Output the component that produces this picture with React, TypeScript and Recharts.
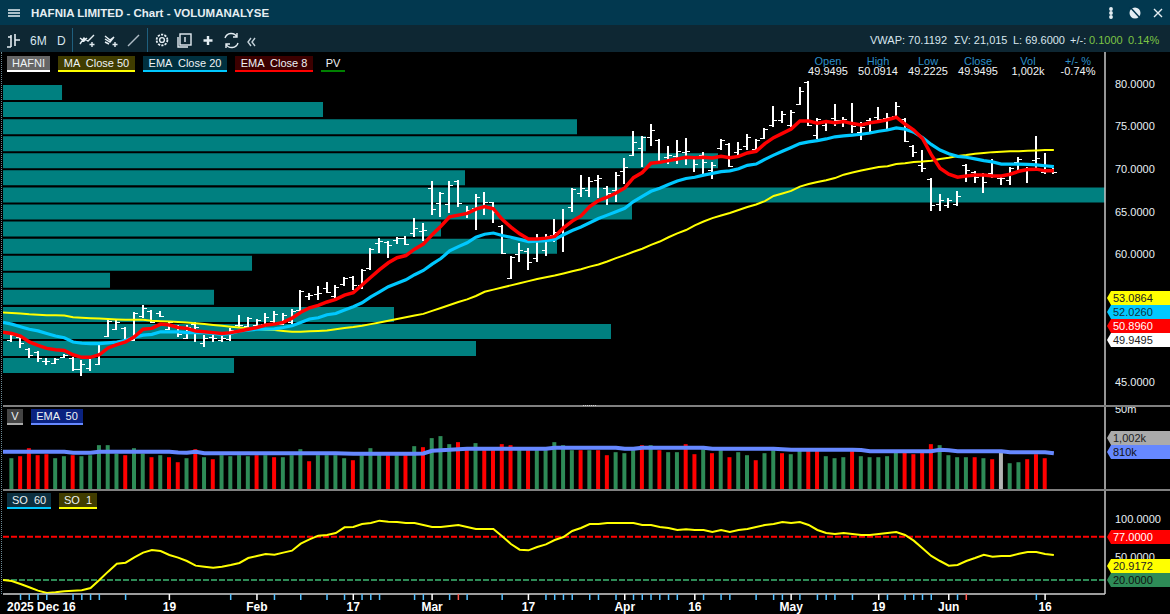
import React from 'react';
import { ComposedChart, BarChart, Bar, Line, XAxis, YAxis, ReferenceLine, Cell } from 'recharts';

// ---- price (index 0 = first bar) ----
const highs = [50.9,50.5,49.0,48.6,47.8,47.8,48.3,47.9,47.6,48.1,49.7,52.3,52.3,51.5,53.2,54.0,53.5,53.3,52.2,51.7,51.7,52.0,50.5,50.5,50.5,51.3,52.9,52.6,52.4,53.1,53.3,53.1,53.6,55.8,55.5,56.3,56.7,56.4,57.3,57.5,58.3,60.7,61.9,61.6,62.0,62.2,64.3,63.7,68.6,67.3,68.6,68.7,65.7,67.1,67.3,66.1,63.4,59.8,61.3,60.7,62.4,62.4,64.1,65.3,67.8,69.3,69.1,69.3,68.0,69.7,71.3,74.5,73.9,75.3,73.5,72.7,73.4,73.7,71.5,72.0,70.8,73.5,73.1,73.2,74.1,73.5,74.8,77.4,76.8,76.9,79.65,80.35,76.0,75.8,77.7,76.1,77.8,75.5,76.0,77.3,76.6,77.9,76.0,72.8,72.3,69.0,67.1,66.6,67.4,70.6,69.8,69.5,71.2,69.1,70.3,71.4,70.3,73.9,71.9,70.1];
const lows = [49.7,49.0,47.8,47.4,47.0,47.1,47.8,46.3,45.7,46.3,47.0,50.3,51.1,49.9,49.8,52.5,51.9,52.6,51.1,50.3,50.1,49.7,49.1,49.7,49.7,49.8,51.5,51.5,51.6,51.5,51.8,51.7,51.8,53.2,54.6,54.6,55.5,54.9,56.3,55.8,55.9,58.2,60.2,59.6,61.2,61.1,62.0,61.6,64.6,64.4,64.8,65.6,64.3,62.9,64.6,63.7,60.0,57.1,59.1,58.2,59.1,59.8,61.4,60.3,65.0,66.7,66.7,66.6,65.8,66.1,68.3,71.5,70.3,72.7,70.8,70.6,70.6,70.5,69.7,69.4,68.8,72.3,70.3,71.3,72.3,72.3,73.5,75.0,75.4,75.0,77.5,75.1,73.5,74.5,75.1,75.0,74.2,73.4,74.4,75.5,74.7,76.0,73.2,71.4,69.7,65.1,65.1,65.4,65.7,68.5,68.4,67.2,69.0,68.1,68.1,69.7,68.4,70.0,69.4,69.4];
const opens = [49.9,50.3,48.9,48.5,47.5,47.2,47.9,47.8,46.5,46.6,47.1,50.4,51.2,51.3,49.9,52.8,53.3,53.1,51.2,51.6,50.2,51.8,49.6,50.3,49.9,50.1,51.7,51.6,51.7,51.8,52.2,51.8,52.0,53.5,55.1,55.3,56.0,55.1,56.5,57.3,56.4,58.4,61.3,61.4,61.7,61.9,62.5,62.7,67.8,66.0,65.9,68.6,64.8,65.4,65.7,66.1,63.3,57.2,60.0,60.4,59.6,60.5,62.3,62.9,65.6,67.2,67.5,68.7,67.8,67.5,69.8,71.7,72.5,73.8,73.4,71.4,71.5,72.0,71.3,71.7,69.9,72.5,73.0,72.0,72.7,72.4,73.7,75.2,75.8,75.2,77.7,80.2,74.0,75.2,76.0,75.8,75.5,74.4,75.8,76.1,76.0,76.2,75.9,72.7,70.5,68.8,65.9,65.8,65.9,70.5,69.7,69.4,69.5,69.0,68.7,70.8,69.9,71.1,69.7,69.8];
const closes = [50.5,49.6,48.2,47.8,47.5,47.7,48.2,46.5,47.1,47.9,49.6,52.2,52.0,50.1,53.1,53.7,52.0,52.8,52.0,50.6,51.5,51.5,50.2,50.2,50.2,51.1,51.7,52.5,52.3,52.6,53.0,52.9,53.3,55.7,55.2,55.5,55.6,56.2,57.2,56.4,58.2,60.6,61.6,61.1,61.9,61.2,63.1,62.9,65.3,67.2,68.1,66.0,65.2,66.7,66.1,65.0,60.2,59.7,60.5,59.1,61.7,62.2,62.6,63.4,67.7,67.8,68.6,69.0,67.2,69.3,70.3,73.2,73.8,74.6,71.0,71.7,72.1,72.1,70.6,70.8,70.5,73.4,70.4,72.4,73.8,73.4,74.7,75.8,76.5,76.7,79.2,75.2,75.9,75.5,75.8,75.9,75.1,75.0,74.5,75.9,76.1,77.4,73.3,72.0,70.1,65.8,66.4,66.4,66.8,69.9,69.1,68.5,69.2,69.0,70.1,71.2,70.1,71.3,70.5,69.7];

// ---- moving averages (first value belongs to the point left of the first bar) ----
const ema8 = [50.85,50.7,50.4,49.7,49.3,48.95,48.8,48.7,48.2,47.9,47.9,48.2,49.0,49.4,49.7,50.3,51.2,51.3,51.8,51.7,51.4,51.3,51.0,50.9,50.8,50.7,50.8,51.0,51.2,51.4,51.7,51.8,52.0,52.5,53.2,53.7,54.0,54.4,54.7,55.2,55.5,56.4,57.3,58.2,59.0,59.6,59.85,60.6,61.2,62.3,63.3,64.4,64.6,64.8,65.3,65.6,65.35,64.1,63.2,62.4,61.8,61.8,61.9,62.1,63.1,63.9,64.5,65.6,66.3,66.7,67.2,67.8,69.0,69.6,70.7,70.8,71.0,71.2,71.4,71.35,71.4,71.3,71.5,71.35,71.5,71.9,72.1,73.0,73.7,74.2,74.7,75.65,75.65,75.4,75.6,75.45,75.6,75.35,75.2,75.45,75.6,75.8,76.1,75.3,74.6,73.6,71.7,70.1,69.4,69.05,69.2,69.3,69.3,69.2,69.2,69.4,69.75,69.95,70.0,69.8,69.8];
const ema20 = [52.0,51.8,51.5,51.2,51.0,50.7,50.4,50.2,49.7,49.55,49.5,49.5,49.6,49.7,49.9,50.25,50.5,50.6,50.9,50.9,50.9,50.8,50.8,50.8,50.7,50.6,50.7,51.0,51.1,51.2,51.2,51.25,51.4,51.6,52.0,52.4,52.55,52.9,53.05,53.45,53.85,54.3,55.0,55.6,56.2,56.6,57.0,57.6,58.1,58.85,59.5,60.4,60.9,61.35,62.0,62.35,62.5,62.2,62.0,61.75,61.5,61.55,61.6,61.75,62.3,62.8,63.2,63.7,64.2,64.6,65.0,65.4,66.2,66.8,67.4,67.75,68.2,68.6,68.9,69.05,69.3,69.5,69.7,69.8,70.05,70.45,70.6,71.15,71.65,72.1,72.55,73.0,73.2,73.35,73.55,73.8,73.9,74.0,74.1,74.25,74.45,74.6,74.85,74.7,74.35,73.7,72.9,72.25,71.8,71.5,71.4,71.2,71.0,70.85,70.6,70.6,70.6,70.55,70.5,70.4,70.3];
const ma50 = [53.15,53.1,53.05,52.95,52.9,52.85,52.85,52.8,52.6,52.55,52.5,52.45,52.4,52.35,52.3,52.3,52.3,52.2,52.15,52.1,52.05,52.0,51.9,51.8,51.7,51.6,51.5,51.4,51.3,51.25,51.15,51.1,51.0,50.9,50.9,50.95,51.0,51.05,51.2,51.35,51.45,51.6,51.8,52.0,52.2,52.4,52.6,52.8,53.0,53.35,53.7,54.05,54.4,54.7,55.1,55.6,55.85,56.1,56.35,56.6,56.85,57.1,57.3,57.5,57.75,58.0,58.25,58.55,58.8,59.15,59.55,59.9,60.3,60.65,61.1,61.5,62.0,62.45,62.85,63.4,63.85,64.25,64.55,64.85,65.2,65.55,65.85,66.25,66.85,67.15,67.45,67.95,68.25,68.5,68.7,68.95,69.35,69.6,69.85,70.05,70.25,70.35,70.6,70.7,70.85,70.9,71.0,71.2,71.35,71.55,71.65,71.8,71.9,72.0,72.05,72.1,72.1,72.15,72.2,72.25,72.25];

// ---- volume profile: price level and traded amount ----
const profileLevels = [79,77,75,73,71,69,67,65,63,61,59,57,55,53,51,49,47];
const profileAmounts = [59,320,574,643,715,462,1102,629,438,554,249,107,211,391,608,473,231];

// ---- volume ----
const volumes = [490,520,640,535,550,490,520,535,520,535,685,685,560,535,640,560,505,535,505,430,490,625,505,475,535,520,535,520,535,535,505,505,535,625,445,535,535,535,490,460,535,640,560,535,535,535,670,655,790,820,700,730,610,715,610,610,700,685,610,610,610,610,730,685,610,610,610,610,535,580,565,610,685,685,610,580,580,700,550,625,565,610,505,580,535,460,565,610,565,550,610,610,610,520,490,505,610,520,505,505,520,580,580,550,580,700,685,535,505,505,505,490,475,585,415,430,475,550,490,20];
const volumeSides = ('GRRRRGGRGG'+'GGGRGGRGRR'+'GRGRGGGGRG'+'RGGGRGGGGR'+'GGGRGRGRGG'+'GRRGRRRRGR'+'GGGGGRGRRG'+'GGRGRGGRRG'+'RGRGGRGGRG'+'GRRGGGRGGG'+'GGRRRRGGGG'+'RGRNGGRRRG').split('');
const volumeEma = [585,585,585,585,585,585,585,585,570,570,570,585,585,585,585,585,585,585,585,585,575,570,585,565,565,565,565,565,565,565,565,565,565,565,565,565,565,565,565,560,555,555,555,555,555,555,555,555,560,600,610,615,625,630,630,630,630,630,630,630,630,630,630,645,645,645,645,645,645,645,645,630,630,645,645,645,645,645,645,645,645,630,630,630,630,630,630,630,630,625,615,615,615,615,615,615,615,615,612,595,595,595,595,595,595,595,595,615,610,595,595,595,595,595,595,580,580,580,580,580,565];

// ---- stochastic oscillator ----
const so1 = [20,18.7,14.7,10.4,6.0,2.9,3.8,5.1,6.0,6.4,9.5,20,31,41.5,42.8,49.8,56,59.5,58.2,52.9,49.4,45,38.9,37.5,36.2,37.5,39.7,42.4,48.9,51.6,54.2,53.3,56,58.6,67.8,73.5,78.3,79.2,81.8,89.3,89.7,93.7,95,98.1,96.8,96.3,95,95,92.4,89.7,89.7,91.1,92.4,89.7,87.1,87.1,87.1,77.5,67.4,59.9,59,63.4,66.9,72.6,76.6,84.5,88.4,93.7,93.7,95,95,95,95,92.4,92.4,89.7,88.4,85.8,86.7,85.8,85.8,83.2,85.8,83.2,85.8,87.1,89.7,92.4,93.7,96.3,95,96.3,92.4,85.8,81.8,80.5,81.8,80.5,79.2,79.2,80.5,81.8,83.2,79.2,71.8,61.7,51.6,45,38.9,39.7,45,48.9,53.3,50.7,51.6,51.6,54.6,56.8,56.8,54.2,52.9];

// ---- axes ----
const priceTicks = [45,60,65,70,75,80];
const soTicks = [50,100];
const minorDateTicks = [1,2,3,4,7,8,9,10,13,25,30,33,36,38,40,41,42,46,47,50,52,56,61,62,63,64,66,67,69,71,72,73,74,75,76,79,81,82,85,87,88,90,92,93,94,96,100,102,103,104,105,108,117];
const flaggedDateTicks = [51,109];
const dateLabels: Record<number,string> = {0:'2025 Dec 16',18:'19',28:'Feb',39:'17',48:'Mar',59:'17',70:'Apr',78:'16',89:'May',99:'19',107:'Jun',118:'16'};
const allDateTicks = [...minorDateTicks, ...flaggedDateTicks, ...Object.keys(dateLabels).map(Number)].sort((a,b)=>a-b);

const rows = ema8.map((_, k) => {
  const i = k - 1;
  return {
    i,
    high: i >= 0 ? highs[i] : null,
    low: i >= 0 ? lows[i] : null,
    open: i >= 0 ? opens[i] : null,
    close: i >= 0 ? closes[i] : null,
    range: i >= 0 ? [lows[i], highs[i]] : null,
    ema8: ema8[k], ema20: ema20[k], ma50: ma50[k],
    vol: i >= 0 ? volumes[i] : null,
    volEma: volumeEma[k], so1: so1[k],
  };
});
const profileRows = profileLevels.map((level, k) => ({ level, amount: profileAmounts[k] }));

const FONT = '"Liberation Sans", Arial, sans-serif';
const xDomain: [number, number] = [-1, 124.84];
const sideColor: Record<string,string> = { G: '#2E8B57', R: '#FF0000', N: '#B4B4B4' };

const OhlcBar = (p: any) => {
  const { x, y, width, height, payload } = p;
  if (!payload || payload.high == null) return null;
  const top = Math.min(y, y + height);
  const h = Math.abs(height);
  const cx = Math.round(x + width / 2);
  const k = h / (payload.high - payload.low);
  const oy = Math.round(top + (payload.high - payload.open) * k) + 0.5;
  const cy = Math.round(top + (payload.high - payload.close) * k) + 0.5;
  return (
    <g shapeRendering="crispEdges" stroke="#fff">
      <line x1={cx} x2={cx} y1={top} y2={top + h} strokeWidth={2} />
      <line x1={cx - 4} x2={cx} y1={oy} y2={oy} strokeWidth={1} />
      <line x1={cx} x2={cx + 4} y1={cy} y2={cy} strokeWidth={1} />
    </g>
  );
};

const DateTick = (p: any) => {
  const { x, y, payload } = p;
  const v = payload.value as number;
  const label = dateLabels[v];
  if (v === 0) return <text x={x - 4.7} y={y + 17} fill="#fff" fontFamily={FONT} fontSize={12} fontWeight={700}>{label}</text>;
  const color = label ? '#ffffff' : flaggedDateTicks.includes(v) ? '#ff5a50' : '#55c0ff';
  return (
    <g>
      <line x1={x} x2={x} y1={y} y2={y + 6} stroke={color} strokeWidth={1.5} />
      {label && <text x={x} y={y + 17} textAnchor="middle" fill="#fff" fontFamily={FONT} fontSize={12} fontWeight={700}>{label}</text>}
    </g>
  );
};

const abs = (left: number, top: number, extra: React.CSSProperties = {}): React.CSSProperties => ({ position: 'absolute', left, top, ...extra });

const Tag = ({ y, bg, color, text }: { y: number; bg: string; color: string; text: string }) => (
  <div style={abs(1107, y - 7, { width: 63, height: 14, background: bg, color, fontSize: 11, lineHeight: '14px', paddingLeft: 6, boxSizing: 'border-box', clipPath: 'polygon(0 50%, 4px 0, 100% 0, 100% 100%, 4px 100%)', whiteSpace: 'nowrap' })}>{text}</div>
);

const Chip = ({ x, y, w, h = 16, bg, line, text }: { x: number; y: number; w: number; h?: number; bg: string; line: string; text: string }) => (
  <div style={abs(x, y, { width: w, height: h, background: bg, borderBottom: `2px solid ${line}`, boxSizing: 'border-box', color: '#eef2f5', fontSize: 11, lineHeight: `${h - 2}px`, textAlign: 'center', whiteSpace: 'pre' })}>{text}</div>
);

const Txt = ({ x, y, color = '#d8e6ee', size = 11, anchor = 'left', bold = false, children }: any) => (
  <div style={abs(anchor === 'center' ? x - 50 : x, y - 8, { width: anchor === 'center' ? 100 : undefined, textAlign: anchor, color, fontSize: size, lineHeight: '16px', fontWeight: bold ? 700 : 400, whiteSpace: 'nowrap' })}>{children}</div>
);

const Icons = () => (
  <svg width={1170} height={52} style={abs(0, 0)} fill="none" stroke="#e4edf2" strokeWidth={1.4}>
    {/* menu */}
    <path d="M8 10h12M8 13h12M8 16h12" strokeWidth={1.6} />
    {/* right of title */}
    <circle cx={1111} cy={9} r={1.2} fill="#e4edf2" /><circle cx={1111} cy={13} r={1.2} fill="#e4edf2" /><circle cx={1111} cy={17} r={1.2} fill="#e4edf2" />
    <circle cx={1135} cy={13} r={5.5} fill="#e4edf2" stroke="none" /><path d="M1130 7l11 12" stroke="#00344c" strokeWidth={1.5} />
    <path d="M1154 9l8 8M1162 9l-8 8" />
    {/* toolbar */}
    <path d="M11 35v12M8 37h3M15 34v12M15 40h5M7 47h4" strokeWidth={1.6} />
    <path d="M80 44l4-6 4 3 6-6M80 38l4 3 3-3M92 42v5M89.5 44.5h5" />
    <path d="M105 36l5 4 4-3-4 5-5-3M105 42l4 2M115 42v5M112.5 44.5h5" />
    <path d="M128 46l11-11" stroke="#aebcc5" />
    <circle cx={162} cy={40} r={2.4} /><circle cx={162} cy={40} r={5.4} strokeDasharray="2.2 1.2" strokeWidth={1.8} />
    <rect x={180} y={34} width={11} height={11} /><path d="M178 37v10h10M185 37v5" />
    <path d="M208 36v9M203.5 40.5h9" strokeWidth={2.4} />
    <path d="M225 38a6.5 6.5 0 0 1 12-1M238 43a6.5 6.5 0 0 1-12 1M237 33v4h-4M226 48v-4h4" />
    <path d="M251 38l-3 4 3 4M255 38l-3 4 3 4" stroke="#c4d2da" />
  </svg>
);

const axisTick = { fill: '#e8f0f6', fontSize: 11, fontFamily: FONT };

export default function App() {
  return (
    <div style={{ position: 'fixed', left: 0, top: 0, width: 1170, height: 614, background: '#000', overflow: 'hidden', fontFamily: FONT }}>
      {/* window chrome */}
      <div style={abs(0, 0, { width: 1170, height: 25, background: '#02384F' })} />
      <div style={abs(0, 25, { width: 1170, height: 27, background: '#0E2733' })} />
      <div style={abs(72, 28, { width: 1, height: 24, background: '#1f5f7e' })} />
      <div style={abs(147, 28, { width: 1, height: 24, background: '#1f5f7e' })} />
      <div style={abs(1, 52, { width: 1, height: 542, borderLeft: '1px dotted #6a8a95' })} />
      <Icons />
      <Txt x={31} y={13} color="#e6eef2" size={11.5} bold>HAFNIA LIMITED - Chart - VOLUMANALYSE</Txt>
      <Txt x={30} y={41} size={12}>6M</Txt>
      <Txt x={57} y={41} size={12}>D</Txt>
      <Txt x={870} y={40}>VWAP: 70.1192</Txt>
      <Txt x={954} y={40}>ΣV: 21,015</Txt>
      <Txt x={1013} y={40}>L: 69.6000</Txt>
      <Txt x={1070} y={40}>+/-:</Txt>
      <Txt x={1089} y={40} color="#7cc444">0.1000</Txt>
      <Txt x={1128} y={40} color="#7cc444">0.14%</Txt>

      {/* volume profile behind the price bars */}
      <div style={abs(3, 83.6)}>
        <BarChart width={1102} height={290.2} data={profileRows} layout="vertical" margin={{ top: 0, right: 0, bottom: 0, left: 0 }}>
          <XAxis type="number" hide domain={[0, 1102]} />
          <YAxis type="category" dataKey="level" hide />
          <Bar dataKey="amount" fill="#008080" barSize={15} isAnimationActive={false} />
        </BarChart>
      </div>

      {/* price */}
      <div style={abs(0, 52)}>
        <ComposedChart width={1170} height={353} data={rows} margin={{ top: 0, right: 0, bottom: 0, left: 3 }}>
          <XAxis type="number" dataKey="i" domain={xDomain} allowDataOverflow hide />
          <YAxis orientation="right" width={65} domain={[42.3, 83.76]} allowDataOverflow ticks={priceTicks} interval={0}
            tickFormatter={(v: number) => v.toFixed(4)} tickLine={false} tickMargin={4}
            axisLine={{ stroke: '#c8c8c8', strokeWidth: 1.5 }} tick={axisTick} />
          <Bar dataKey="range" barSize={6} shape={<OhlcBar />} isAnimationActive={false} />
          <Line dataKey="ma50" stroke="#FFFF00" strokeWidth={2} dot={false} activeDot={false} isAnimationActive={false} />
          <Line dataKey="ema20" stroke="#00C8FF" strokeWidth={3.2} dot={false} activeDot={false} isAnimationActive={false} />
          <Line dataKey="ema8" stroke="#FF0000" strokeWidth={3.5} dot={false} activeDot={false} isAnimationActive={false} />
        </ComposedChart>
      </div>

      {/* volume */}
      <div style={abs(0, 406)}>
        <ComposedChart width={1170} height={85} data={rows} margin={{ top: 0, right: 0, bottom: 0, left: 3 }}>
          <XAxis type="number" dataKey="i" domain={xDomain} allowDataOverflow hide />
          <YAxis orientation="right" width={65} domain={[0, 1270]} allowDataOverflow ticks={[1220]} interval={0}
            tickFormatter={() => '50m'} tickLine={false} tickMargin={4}
            axisLine={{ stroke: '#c8c8c8', strokeWidth: 1.5 }} tick={axisTick} />
          <Bar dataKey="vol" barSize={4} isAnimationActive={false}>
            {rows.map((r) => <Cell key={r.i} fill={r.i >= 0 ? sideColor[volumeSides[r.i]] : 'none'} />)}
          </Bar>
          <Line dataKey="volEma" stroke="#6688FF" strokeWidth={4} dot={false} activeDot={false} isAnimationActive={false} />
        </ComposedChart>
      </div>

      {/* stochastic + date axis */}
      <div style={abs(0, 491)}>
        <ComposedChart width={1170} height={123} data={rows} margin={{ top: 0, right: 0, bottom: 0, left: 3 }}>
          <XAxis type="number" dataKey="i" domain={xDomain} allowDataOverflow ticks={allDateTicks} interval={0} height={20}
            tick={<DateTick />} tickLine={false} tickSize={0} tickMargin={0} axisLine={{ stroke: '#d0d0d0', strokeWidth: 1.5 }} />
          <YAxis orientation="right" width={65} domain={[1.58, 137.1]} allowDataOverflow ticks={soTicks} interval={0}
            tickFormatter={(v: number) => v.toFixed(4)} tickLine={false} tickMargin={4}
            axisLine={{ stroke: '#c8c8c8', strokeWidth: 1.5 }} tick={axisTick} />
          <ReferenceLine y={77} stroke="#FF0000" strokeWidth={2} strokeDasharray="6 2" />
          <ReferenceLine y={20} stroke="#2E8B57" strokeWidth={2} strokeDasharray="6 2" />
          <Line dataKey="so1" stroke="#FFFF00" strokeWidth={2} dot={false} activeDot={false} isAnimationActive={false} />
        </ComposedChart>
      </div>

      {/* panel separators */}
      <div style={abs(3, 405, { width: 1167, height: 2, background: '#808080' })} />
      <div style={abs(3, 489, { width: 1167, height: 2, background: '#808080' })} />
      <div style={abs(583, 404.5, { width: 13, height: 1, borderTop: '1px dotted #d0d0d0' })} />

      {/* legends */}
      <Chip x={7} y={56} w={43} bg="#666" line="#fff" text="HAFNI" />
      <Chip x={58} y={56} w={77} bg="#403C00" line="#FFFF00" text="MA  Close 50" />
      <Chip x={143} y={56} w={84} bg="#00303F" line="#00C8FF" text="EMA  Close 20" />
      <Chip x={235} y={56} w={78} bg="#3C0000" line="#FF0000" text="EMA  Close 8" />
      <Chip x={321} y={56} w={24} bg="transparent" line="#008000" text="PV" />
      <Chip x={7} y={409} w={16} bg="#444" line="#aaa" text="V" />
      <Chip x={31} y={409} w={52} bg="#0A2280" line="#6688FF" text="EMA  50" />
      <Chip x={7} y={493} w={44} bg="#0C3040" line="#00C8FF" text="SO  60" />
      <Chip x={59} y={493} w={38} bg="#403C00" line="#FFFF00" text="SO  1" />

      {/* OHLC readout */}
      {[['Open','49.9495',828],['High','50.0914',878],['Low','49.2225',928],['Close','49.9495',978],['Vol','1,002k',1028],['+/- %','-0.74%',1078]].map(([h,v,x]) => (
        <React.Fragment key={h as string}>
          <Txt x={x} y={61} anchor="center" color="#2C8FC8">{h}</Txt>
          <Txt x={x} y={71} anchor="center" color="#f0f4f6">{v}</Txt>
        </React.Fragment>
      ))}

      {/* value tags */}
      <Tag y={298} bg="#FFFF00" color="#222" text="53.0864" />
      <Tag y={312} bg="#00C8FF" color="#103040" text="52.0260" />
      <Tag y={326} bg="#FF0000" color="#fff" text="50.8960" />
      <Tag y={340} bg="#fff" color="#222" text="49.9495" />
      <Tag y={438} bg="#ABABAB" color="#222" text="1,002k" />
      <Tag y={452} bg="#6688FF" color="#111" text="810k" />
      <Tag y={537} bg="#FF0000" color="#fff" text="77.0000" />
      <Tag y={566} bg="#FFFF00" color="#222" text="20.9172" />
      <Tag y={580} bg="#2E8B57" color="#111" text="20.0000" />
    </div>
  );
}
